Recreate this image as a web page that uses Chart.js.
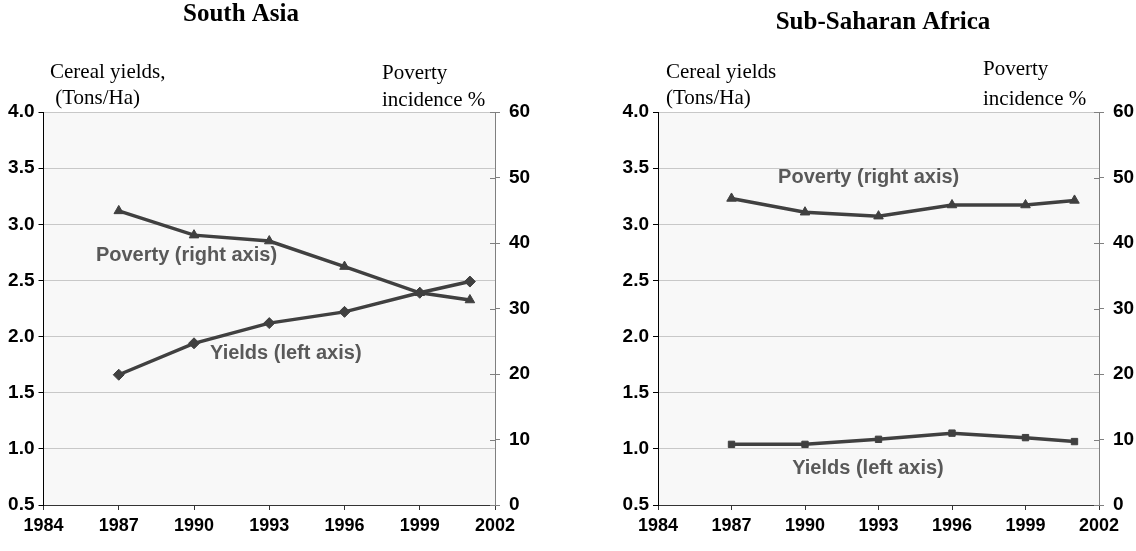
<!DOCTYPE html>
<html>
<head>
<meta charset="utf-8">
<script src="https://cdn.jsdelivr.net/npm/chart.js@4.4.1/dist/chart.umd.min.js"></script>
<style>
  html, body { margin:0; padding:0; background:#ffffff; }
  #wrap { position:relative; width:1136px; height:551px; overflow:hidden; }
  canvas { position:absolute; top:0; }
</style>
</head>
<body>
<div id="wrap">
  <canvas id="c1" width="568" height="551" style="left:0px"></canvas>
  <canvas id="c2" width="568" height="551" style="left:568px"></canvas>
</div>
<script>
// ---- data ----
const years = [1987, 1990, 1993, 1996, 1999, 2001];
const xTicks = [1984, 1987, 1990, 1993, 1996, 1999, 2002];
const leftTicks = [0.5, 1.0, 1.5, 2.0, 2.5, 3.0, 3.5, 4.0];
const rightTicks = [0, 10, 20, 30, 40, 50, 60];

const southAsiaYields  = [1.66, 1.94, 2.12, 2.22, 2.39, 2.49];
const southAsiaPoverty = [44.9, 41.2, 40.3, 36.4, 32.4, 31.3];
const ssaYields  = [1.04, 1.04, 1.085, 1.14, 1.10, 1.065];
const ssaPoverty = [46.8, 44.7, 44.1, 45.8, 45.8, 46.5];

const titles = ["South Asia", "Sub-Saharan Africa"];
const leftAxisTitles = [["Cereal yields,", " (Tons/Ha)"], ["Cereal yields", "(Tons/Ha)"]];
const rightAxisTitles = [["Poverty", "incidence %"], ["Poverty", "incidence %"]];
const povertyLabel = "Poverty (right axis)";
const yieldsLabel = "Yields (left axis)";

Chart.defaults.devicePixelRatio = 1;
const LINE = '#404040';
const SANS = '"Liberation Sans", Arial, sans-serif';
const SERIF = '"Liberation Serif", "Times New Roman", serif';

function pts(ys) { return years.map((x, i) => ({ x: x, y: ys[i] })); }

function makeChart(id, cfg) {
  const bgPlugin = {
    id: 'bg',
    beforeDraw(chart) {
      const a = chart.chartArea, c = chart.ctx;
      c.save(); c.fillStyle = '#f8f8f8';
      c.fillRect(a.left, a.top, a.right - a.left, a.bottom - a.top);
      c.restore();
    },
    afterDraw(chart) {
      const c = chart.ctx, a = chart.chartArea;
      const y1 = chart.scales.y1, yx = chart.scales.y;
      // inner halves of right-axis ticks
      c.save();
      c.strokeStyle = '#808080'; c.lineWidth = 1;
      rightTicks.forEach(v => {
        const py = Math.round(y1.getPixelForValue(v)) + 0.5;
        c.beginPath(); c.moveTo(a.right - 5, py); c.lineTo(a.right, py); c.stroke();
      });
      c.restore();
      // titles
      c.save();
      c.fillStyle = '#000';
      c.textAlign = 'center'; c.textBaseline = 'middle';
      c.font = 'bold 25px ' + SERIF;
      c.fillText(cfg.title, cfg.titleX, cfg.titleY);
      c.textAlign = 'left'; c.textBaseline = 'alphabetic';
      c.font = '21px ' + SERIF;
      c.fillText(cfg.lt[0], cfg.ltX, cfg.ltY[0]);
      c.fillText(cfg.lt[1], cfg.ltX, cfg.ltY[1]);
      c.fillText(cfg.rt[0], cfg.rtX, cfg.rtY[0]);
      c.fillText(cfg.rt[1], cfg.rtX, cfg.rtY[1]);
      // series annotations anchored in data coordinates
      c.fillStyle = '#595959';
      c.textAlign = 'center'; c.textBaseline = 'middle';
      c.font = 'bold 20px ' + SANS;
      const xs = chart.scales.x;
      c.fillText(povertyLabel, xs.getPixelForValue(cfg.povLab[0]), yx.getPixelForValue(cfg.povLab[1]));
      c.fillText(yieldsLabel, xs.getPixelForValue(cfg.yldLab[0]), yx.getPixelForValue(cfg.yldLab[1]));
      c.restore();
    }
  };

  return new Chart(document.getElementById(id), {
    type: 'line',
    data: {
      datasets: [
        {
          label: 'Yields', data: pts(cfg.yields), yAxisID: 'y',
          borderColor: LINE, backgroundColor: LINE, borderWidth: 3.5,
          pointStyle: cfg.yieldStyle, pointRadius: cfg.yieldRadius, pointHoverRadius: cfg.yieldRadius,
          pointBorderWidth: 1, tension: 0
        },
        {
          label: 'Poverty', data: pts(cfg.poverty), yAxisID: 'y1',
          borderColor: LINE, backgroundColor: LINE, borderWidth: 3.5,
          pointStyle: 'triangle', pointRadius: 5.5, pointHoverRadius: 5.5,
          pointBorderWidth: 1, tension: 0
        }
      ]
    },
    options: {
      responsive: false, animation: false,
      events: [],
      layout: { padding: { top: 112, left: 0, right: 0, bottom: 0 } },
      plugins: { legend: { display: false }, tooltip: { enabled: false }, title: { display: false } },
      scales: {
        x: {
          type: 'linear', min: 1984, max: 2002,
          afterBuildTicks(s) { s.ticks = xTicks.map(v => ({ value: v })); },
          afterFit(s) { s.height = 46; },
          grid: { drawOnChartArea: false, tickLength: 5, color: '#333', tickColor: '#333' },
          border: { color: '#333', width: 1 },
          ticks: { color: '#000', font: { family: SANS, size: 18, weight: 'bold' }, padding: 5, maxRotation: 0, autoSkip: false,
                   callback: v => String(v) }
        },
        y: {
          position: 'left', min: 0.5, max: 4.0,
          afterBuildTicks(s) { s.ticks = leftTicks.map(v => ({ value: v })); },
          afterFit(s) { s.width = cfg.leftW; },
          grid: { color: '#c8c8c8', tickColor: '#000', tickLength: 5 },
          border: { color: '#000', width: 1 },
          ticks: { color: '#000', font: { family: SANS, size: 19, weight: 'bold' }, padding: 4,
                   callback: v => v.toFixed(1) }
        },
        y1: {
          position: 'right', min: 0, max: 60,
          afterBuildTicks(s) { s.ticks = rightTicks.map(v => ({ value: v })); },
          afterFit(s) { s.width = cfg.rightW; },
          grid: { drawOnChartArea: false, color: '#808080', tickColor: '#808080', tickLength: 5 },
          border: { color: '#808080', width: 1 },
          ticks: { color: '#000', font: { family: SANS, size: 19, weight: 'bold' }, padding: 9,
                   callback: v => String(v) }
        }
      }
    },
    plugins: [bgPlugin]
  });
}

makeChart('c1', {
  yields: southAsiaYields, poverty: southAsiaPoverty,
  yieldStyle: 'rectRot', yieldRadius: 5.5,
  leftW: 43.5, rightW: 73,
  title: titles[0], titleX: 241, titleY: 15,
  lt: leftAxisTitles[0], ltX: 50, ltY: [78, 104],
  rt: rightAxisTitles[0], rtX: 382, rtY: [79, 106],
  povLab: [1989.7, 2.72], yldLab: [1993.66, 1.85]
});

makeChart('c2', {
  yields: ssaYields, poverty: ssaPoverty,
  yieldStyle: 'rect', yieldRadius: 4.5,
  leftW: 90, rightW: 37,
  title: titles[1], titleX: 883 - 568, titleY: 23,
  lt: leftAxisTitles[1], ltX: 98, ltY: [78, 104],
  rt: rightAxisTitles[1], rtX: 415, rtY: [75, 105],
  povLab: [1992.6, 3.42], yldLab: [1992.57, 0.825]
});
</script>
</body>
</html>
